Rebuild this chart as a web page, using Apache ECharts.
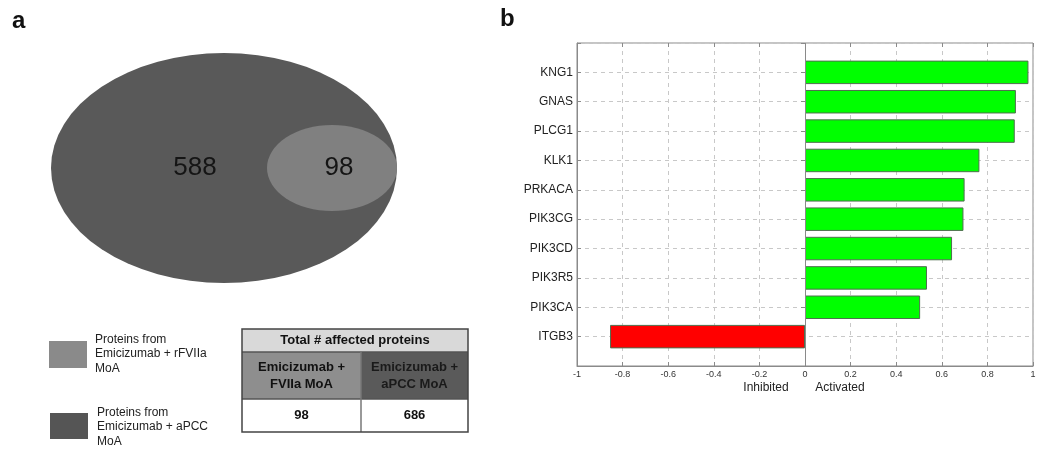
<!DOCTYPE html>
<html>
<head>
<meta charset="utf-8">
<script src="https://cdn.jsdelivr.net/npm/echarts@6/dist/echarts.min.js"></script>
<style>
html,body{margin:0;padding:0;background:#fff;}
#chart{width:1054px;height:449px;}
</style>
</head>
<body>
<div id="chart"></div>
<script>
// ---- Panel a data ----
const vennCounts = [588, 98];               // [aPCC-only region, shared rFVIIa region]
const legendLabels = ['Proteins from\nEmicizumab + rFVIIa\nMoA', 'Proteins from\nEmicizumab + aPCC\nMoA'];
const tableHeader = 'Total # affected proteins';
const tableCols = ['Emicizumab +\nFVIIa MoA', 'Emicizumab +\naPCC MoA'];
const tableValues = [98, 686];

// ---- Panel b data (top to bottom) ----
const genes = ['KNG1', 'GNAS', 'PLCG1', 'KLK1', 'PRKACA', 'PIK3CG', 'PIK3CD', 'PIK3R5', 'PIK3CA', 'ITGB3'];
const scores = [0.98, 0.925, 0.92, 0.765, 0.70, 0.695, 0.645, 0.535, 0.505, -0.855];
const xAxisLabels = ['Inhibited', 'Activated'];

// category axis bottom-to-top with empty padding slots (like ylim [0 11])
const cats = [''].concat(genes.slice().reverse()).concat(['']);
const vals = ['-'].concat(scores.slice().reverse()).concat(['-']);

const FONT = '"Liberation Sans", Arial, sans-serif';
const chart = echarts.init(document.getElementById('chart'));

const g = [];
// panel letters
g.push({type:'text', left:12, top:9, style:{text:'a', font:'bold 24px ' + FONT, fill:'#111'}});
g.push({type:'text', left:500, top:7, style:{text:'b', font:'bold 24px ' + FONT, fill:'#111'}});
// Venn ellipses
g.push({type:'circle', x:224, y:168, scaleX:173/115, scaleY:1, shape:{cx:0, cy:0, r:115}, style:{fill:'#595959'}});
g.push({type:'circle', x:332, y:168, scaleX:65/43, scaleY:1, shape:{cx:0, cy:0, r:43}, style:{fill:'#808080'}});
g.push({type:'text', x:195, y:168, style:{text:String(vennCounts[0]), font:'26px ' + FONT, fill:'#151515', align:'center', verticalAlign:'middle'}});
g.push({type:'text', x:339, y:168, style:{text:String(vennCounts[1]), font:'26px ' + FONT, fill:'#151515', align:'center', verticalAlign:'middle'}});
// legend
g.push({type:'rect', shape:{x:49, y:341, width:38, height:27}, style:{fill:'#8a8a8a'}});
g.push({type:'text', x:95, y:332, style:{text:legendLabels[0], font:'12px ' + FONT, fill:'#222', lineHeight:14.5}});
g.push({type:'rect', shape:{x:50, y:413, width:38, height:26}, style:{fill:'#555555'}});
g.push({type:'text', x:97, y:405, style:{text:legendLabels[1], font:'12px ' + FONT, fill:'#222', lineHeight:14.5}});
// table
const tx0 = 242, tx1 = 361, tx2 = 468, ty0 = 329, ty1 = 352, ty2 = 399, ty3 = 432;
g.push({type:'rect', shape:{x:tx0, y:ty0, width:tx2-tx0, height:ty1-ty0}, style:{fill:'#d9d9d9'}});
g.push({type:'rect', shape:{x:tx0, y:ty1, width:tx1-tx0, height:ty2-ty1}, style:{fill:'#8e8e8e'}});
g.push({type:'rect', shape:{x:tx1, y:ty1, width:tx2-tx1, height:ty2-ty1}, style:{fill:'#5a5a5a'}});
g.push({type:'rect', shape:{x:tx0, y:ty2, width:tx2-tx0, height:ty3-ty2}, style:{fill:'#ffffff'}});
g.push({type:'line', shape:{x1:tx0, y1:ty1, x2:tx2, y2:ty1}, style:{stroke:'#555', lineWidth:1.5}});
g.push({type:'line', shape:{x1:tx0, y1:ty2, x2:tx2, y2:ty2}, style:{stroke:'#555', lineWidth:1.5}});
g.push({type:'line', shape:{x1:tx1, y1:ty1, x2:tx1, y2:ty3}, style:{stroke:'#777', lineWidth:1.5}});
g.push({type:'rect', shape:{x:tx0, y:ty0, width:tx2-tx0, height:ty3-ty0}, style:{fill:'none', stroke:'#444', lineWidth:1.5}});
g.push({type:'text', x:(tx0+tx2)/2, y:(ty0+ty1)/2, style:{text:tableHeader, font:'bold 13px ' + FONT, fill:'#111', align:'center', verticalAlign:'middle'}});
g.push({type:'text', x:(tx0+tx1)/2, y:(ty1+ty2)/2, style:{text:tableCols[0], font:'bold 13px ' + FONT, fill:'#111', align:'center', verticalAlign:'middle', lineHeight:17}});
g.push({type:'text', x:(tx1+tx2)/2, y:(ty1+ty2)/2, style:{text:tableCols[1], font:'bold 13px ' + FONT, fill:'#1a1a1a', align:'center', verticalAlign:'middle', lineHeight:17}});
g.push({type:'text', x:(tx0+tx1)/2, y:(ty2+ty3)/2, style:{text:String(tableValues[0]), font:'bold 13px ' + FONT, fill:'#111', align:'center', verticalAlign:'middle'}});
g.push({type:'text', x:(tx1+tx2)/2, y:(ty2+ty3)/2, style:{text:String(tableValues[1]), font:'bold 13px ' + FONT, fill:'#111', align:'center', verticalAlign:'middle'}});
// x axis sub-labels
g.push({type:'text', x:766, y:388, style:{text:xAxisLabels[0], font:'12px ' + FONT, fill:'#222', align:'center', verticalAlign:'middle'}});
g.push({type:'text', x:840, y:388, style:{text:xAxisLabels[1], font:'12px ' + FONT, fill:'#222', align:'center', verticalAlign:'middle'}});

const option = {
  backgroundColor: '#ffffff',
  animation: false,
  textStyle: {fontFamily: FONT},
  grid: {left: 577, right: 21, top: 43, bottom: 83, show: true, borderColor: '#8a8a8a', borderWidth: 1, containLabel: false},
  xAxis: [{
    type: 'value', min: -1, max: 1, interval: 0.2,
    axisLine: {show: true, lineStyle: {color: '#8a8a8a'}},
    axisTick: {show: true, inside: true, length: 4, lineStyle: {color: '#8a8a8a'}},
    axisLabel: {fontSize: 9, color: '#333', margin: 4, formatter: v => String(Math.round(v * 10) / 10)},
    splitLine: {show: true, lineStyle: {color: '#c8c8c8', type: [4, 4]}}
  }, {
    type: 'value', min: -1, max: 1, interval: 0.2, position: 'top',
    axisLine: {show: false}, axisLabel: {show: false}, splitLine: {show: false},
    axisTick: {show: true, inside: true, length: 4, lineStyle: {color: '#8a8a8a'}}
  }],
  yAxis: [{
    type: 'category', data: cats, boundaryGap: false,
    axisLine: {show: true, onZero: false, lineStyle: {color: '#8a8a8a'}},
    axisTick: {show: true, inside: true, length: 4, lineStyle: {color: '#8a8a8a'}},
    axisLabel: {fontSize: 12, color: '#222', margin: 4, interval: 0},
    splitLine: {show: true, interval: 0, lineStyle: {color: '#c8c8c8', type: [4, 4]}}
  }, {
    type: 'category', data: cats, boundaryGap: false, position: 'right',
    axisLine: {show: false}, axisLabel: {show: false}, splitLine: {show: false},
    axisTick: {show: true, inside: true, length: 4, interval: 0, lineStyle: {color: '#8a8a8a'}}
  }],
  series: [{
    type: 'bar',
    data: vals,
    barWidth: '80%',
    itemStyle: {
      color: p => (p.value < 0 ? '#ff0000' : '#00ff00'),
      borderColor: '#4f6f4f', borderWidth: 1
    },
    markLine: {
      silent: true, symbol: 'none', label: {show: false},
      lineStyle: {color: '#8a8a8a', type: 'solid', width: 1},
      data: [{xAxis: 0}]
    }
  }],
  graphic: g
};
chart.setOption(option);
</script>
</body>
</html>
